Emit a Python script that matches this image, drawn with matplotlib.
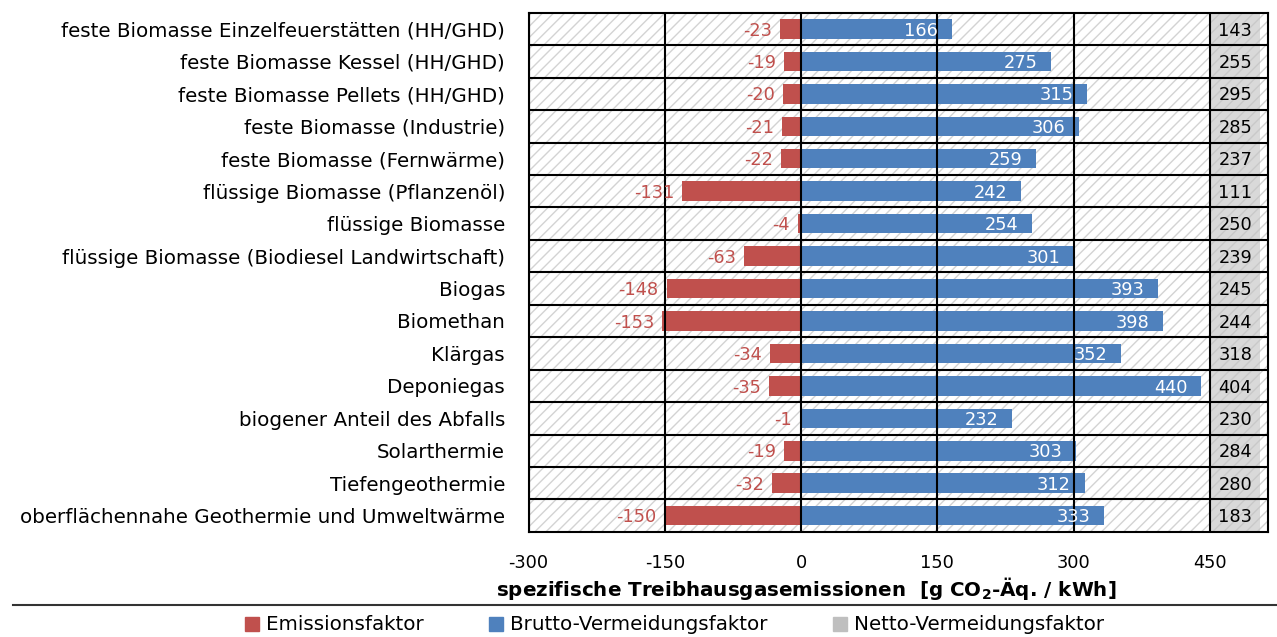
import numpy as np
import matplotlib.pyplot as plt
from matplotlib.patches import Patch, Rectangle

plt.rcParams['font.family'] = ['DejaVu Sans']
plt.rcParams['hatch.linewidth'] = 1.0

categories = ['feste Biomasse Einzelfeuerstätten (HH/GHD)',
              'feste Biomasse Kessel (HH/GHD)',
              'feste Biomasse Pellets (HH/GHD)',
              'feste Biomasse (Industrie)',
              'feste Biomasse (Fernwärme)',
              'flüssige Biomasse (Pflanzenöl)',
              'flüssige Biomasse',
              'flüssige Biomasse (Biodiesel Landwirtschaft)',
              'Biogas',
              'Biomethan',
              'Klärgas',
              'Deponiegas',
              'biogener Anteil des Abfalls',
              'Solarthermie',
              'Tiefengeothermie',
              'oberflächennahe Geothermie und Umweltwärme']
emission = [-23, -19, -20, -21, -22, -131, -4, -63, -148, -153, -34, -35, -1, -19, -32, -150]
brutto = [166, 275, 315, 306, 259, 242, 254, 301, 393, 398, 352, 440, 232, 303, 312, 333]
netto = [143, 255, 295, 285, 237, 111, 250, 239, 245, 244, 318, 404, 230, 284, 280, 183]
xticks = [-300, -150, 0, 150, 300, 450]

red = '#C0504D'
blue = '#4F81BD'
grey = '#D9D9D9'

n = len(categories)
y = np.arange(n)
xmax = 514

fig, ax = plt.subplots(figsize=(12.77, 6.37), dpi=100)
fig.subplots_adjust(left=0.414, right=0.993, top=0.98, bottom=0.165)

ax.set_xlim(-300, xmax)
ax.set_ylim(n - 0.5, -0.5)

# hatched background
ax.add_patch(Rectangle((-300, -0.5), xmax + 300, n, facecolor='white',
                       hatch='///', edgecolor='#d3d3d3', lw=0, zorder=0))

# netto column
ax.barh(y, 55, left=450, height=1.0, color=grey, hatch='///',
        edgecolor='#c9c9c9', lw=0, zorder=1)

ax.barh(y, emission, height=0.6, color=red, zorder=2)
ax.barh(y, brutto, height=0.6, color=blue, zorder=2)

for v in xticks:
    ax.axvline(v, color='black', lw=1.5, zorder=3)
for i in range(n - 1):
    ax.axhline(i + 0.5, color='black', lw=1.5, zorder=3)
for s in ax.spines.values():
    s.set_linewidth(1.5)
    s.set_zorder(4)

for i in range(n):
    ax.text(emission[i] - 9, i + 0.05, str(emission[i]), ha='right', va='center',
            color=red, fontsize=12.8, zorder=5)
    ax.text(brutto[i] - 15, i + 0.05, str(brutto[i]), ha='right', va='center',
            color='white', fontsize=12.8, zorder=5)
    ax.text(478, i + 0.05, str(netto[i]), ha='center', va='center',
            color='black', fontsize=12.8, zorder=5)

ax.set_yticks(y)
ax.set_yticklabels(categories, fontsize=14.3)
ax.set_xticks(xticks)
ax.set_xticklabels([str(v) for v in xticks], fontsize=12.8)
ax.tick_params(axis='y', length=0, pad=17)
ax.tick_params(axis='x', length=0, pad=16)

fig.text(806 / 1277, 1 - 589 / 637,
         r'spezifische Treibhausgasemissionen  [g CO$_\mathbf{2}$-Äq. / kWh]',
         ha='center', va='center', fontsize=14.3, fontweight='bold')

fig.add_artist(plt.Line2D([13 / 1277, 1.0], [1 - 605 / 637] * 2,
                          color='#333333', lw=1.5))

handles = [Patch(color=red, label='Emissionsfaktor'),
           Patch(color=blue, label='Brutto-Vermeidungsfaktor'),
           Patch(color='#BFBFBF', label='Netto-Vermeidungsfaktor')]
fig.legend(handles=handles, loc='center', bbox_to_anchor=(0.528, 1 - 625 / 637),
           ncol=3, frameon=False, fontsize=14.3, handlelength=0.7,
           handleheight=0.7, handletextpad=0.35, columnspacing=3.3)

fig.savefig('out.png', dpi=100)
